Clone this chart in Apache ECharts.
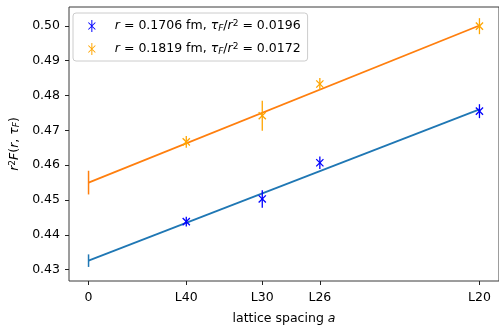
<!DOCTYPE html>
<html>
<head>
<meta charset="utf-8">
<script src="https://cdn.jsdelivr.net/npm/echarts@6/dist/echarts.min.js"></script>
<style>html,body{margin:0;padding:0;background:#fff;}#c{width:499px;height:330px;}</style>
</head>
<body>
<div id="c"></div>
<script>
// ---- data ----
const tickLabels = ['0', 'L40', 'L30', 'L26', 'L20'];
const tickX = [0, 0.25, 0.4444, 0.5917, 1.0];            // (a/a_L20)^2 positions
const yTicks = [0.43, 0.44, 0.45, 0.46, 0.47, 0.48, 0.49, 0.50];

const latticeX = [0.25, 0.4444, 0.5917, 1.0];            // L40, L30, L26, L20
const blueVals = [0.4438, 0.4503, 0.4607, 0.4755];
const blueErrs = [0.0014, 0.0025, 0.0018, 0.0020];
const orangeVals = [0.4667, 0.4742, 0.4833, 0.4999];
const orangeErrs = [0.0017, 0.0043, 0.0017, 0.0023];

const blueExtrap = [0.4326, 0.0018];   // value, error at a=0
const orangeExtrap = [0.4550, 0.0034];
const fitX = [0, 1.0];
const blueFit = [0.4326, 0.4760];
const orangeFit = [0.4550, 0.5001];

const nameBlue = 'r1';
const nameOrange = 'r2';
const legendText = {
  r1: '{i|r} = 0.1706 fm, {i|τ}{sub|F}/{i|r}{sup|2} = 0.0196',
  r2: '{i|r} = 0.1819 fm, {i|τ}{sub|F}/{i|r}{sup|2} = 0.0172'
};

const FONT = 'DejaVu Sans';
const FS = 12.5;
const richStyles = {
  i: {fontFamily: FONT, fontSize: FS, fontStyle: 'italic', color: '#000'},
  sub: {fontFamily: FONT, fontSize: 9, fontStyle: 'italic', color: '#000', verticalAlign: 'bottom', lineHeight: 9},
  sup: {fontFamily: FONT, fontSize: 9, color: '#000', verticalAlign: 'top', lineHeight: 9}
};

const starIcon = 'path://M3,0 L4,0 L4,12 L3,12 Z M0.35,2.15 L7.35,9.15 L6.65,9.85 L-0.35,2.85 Z M6.65,2.15 L7.35,2.85 L0.35,9.85 L-0.35,9.15 Z';

function pointData(xs, vs, es) {
  return xs.map((x, i) => [x, vs[i], es[i]]);
}

function renderStar(params, api) {
  const x = api.value(0), y = api.value(1), e = api.value(2);
  const c = api.coord([x, y]);
  const lo = api.coord([x, y - e]);
  const hi = api.coord([x, y + e]);
  const s = 3.6;
  const col = api.visual('color');
  const st = {stroke: col, lineWidth: 1.3};
  return {
    type: 'group',
    children: [
      {type: 'line', shape: {x1: c[0], y1: lo[1], x2: c[0], y2: hi[1]}, style: st},
      {type: 'line', shape: {x1: c[0] - s, y1: c[1] - s, x2: c[0] + s, y2: c[1] + s}, style: st},
      {type: 'line', shape: {x1: c[0] - s, y1: c[1] + s, x2: c[0] + s, y2: c[1] - s}, style: st}
    ]
  };
}

function renderBar(params, api) {
  const x = api.value(0), y = api.value(1), e = api.value(2);
  const lo = api.coord([x, y - e]);
  const hi = api.coord([x, y + e]);
  return {type: 'line', shape: {x1: lo[0], y1: lo[1], x2: hi[0], y2: hi[1]},
          style: {stroke: api.visual('color'), lineWidth: 1.5}};
}

const chart = echarts.init(document.getElementById('c'), null, {renderer: 'canvas'});
chart.setOption({
  animation: false,
  backgroundColor: '#fff',
  grid: {left: 67, top: 7, right: 0, bottom: 39, show: true, borderColor: '#3a3a3a', borderWidth: 1, backgroundColor: 'transparent'},
  legend: {
    orient: 'vertical', left: 73, top: 13,
    padding: [6, 7, 5, 15],
    itemWidth: 36, itemHeight: 12, itemGap: 9,
    backgroundColor: 'rgba(255,255,255,0.8)', borderColor: '#cccccc', borderWidth: 1, borderRadius: 3,
    data: [{name: nameBlue, icon: starIcon}, {name: nameOrange, icon: starIcon}],
    formatter: n => legendText[n],
    textStyle: {fontFamily: FONT, fontSize: FS, color: '#000', lineHeight: 14, rich: richStyles}
  },
  xAxis: {
    type: 'value', min: -0.05, max: 1.05,
    axisLine: {show: false, onZero: false},
    splitLine: {show: false},
    axisTick: {show: true, length: 4, lineStyle: {color: '#222', width: 1}, customValues: tickX},
    axisLabel: {
      customValues: tickX, margin: 10, color: '#000', fontFamily: FONT, fontSize: FS,
      formatter: v => { const i = tickX.findIndex(t => Math.abs(t - v) < 1e-6); return i >= 0 ? tickLabels[i] : ''; }
    },
    name: 'lattice spacing {i|a}', nameLocation: 'middle', nameGap: 31,
    nameTextStyle: {fontFamily: FONT, fontSize: FS, color: '#000', rich: richStyles}
  },
  yAxis: {
    type: 'value', min: 0.42676, max: 0.5054,
    axisLine: {show: false, onZero: false},
    splitLine: {show: false},
    axisTick: {show: true, length: 4, lineStyle: {color: '#222', width: 1}, customValues: yTicks},
    axisLabel: {customValues: yTicks, margin: 9, color: '#000', fontFamily: FONT, fontSize: FS,
                formatter: v => v.toFixed(2)},
    name: '{i|r}{sup|2}{i|F}({i|r}, {i|τ}{sub|F})', nameLocation: 'middle', nameGap: 48, nameRotate: 90,
    nameTextStyle: {fontFamily: FONT, fontSize: FS, color: '#000', rich: richStyles}
  },
  series: [
    {type: 'line', name: 'fitBlue', data: fitX.map((x, i) => [x, blueFit[i]]), symbol: 'none',
     lineStyle: {color: '#1f77b4', width: 1.8}, z: 2},
    {type: 'line', name: 'fitOrange', data: fitX.map((x, i) => [x, orangeFit[i]]), symbol: 'none',
     lineStyle: {color: '#ff7f0e', width: 1.8}, z: 2},
    {type: 'custom', name: 'exBlue', renderItem: renderBar, itemStyle: {color: '#1f77b4'},
     data: [[0, blueExtrap[0], blueExtrap[1]]], z: 3},
    {type: 'custom', name: 'exOrange', renderItem: renderBar, itemStyle: {color: '#ff7f0e'},
     data: [[0, orangeExtrap[0], orangeExtrap[1]]], z: 3},
    {type: 'custom', name: nameBlue, renderItem: renderStar, itemStyle: {color: '#0000ff'},
     data: pointData(latticeX, blueVals, blueErrs), z: 4},
    {type: 'custom', name: nameOrange, renderItem: renderStar, itemStyle: {color: '#ffa500'},
     data: pointData(latticeX, orangeVals, orangeErrs), z: 4}
  ]
});
</script>
</body>
</html>
